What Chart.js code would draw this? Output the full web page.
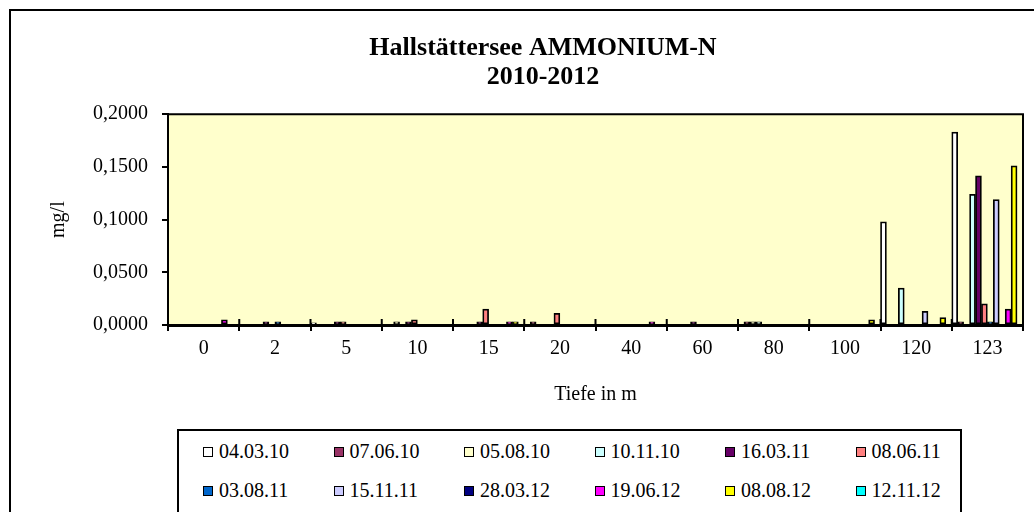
<!DOCTYPE html>
<html>
<head>
<meta charset="utf-8">
<title>Hallstättersee AMMONIUM-N</title>
<script src="https://cdn.jsdelivr.net/npm/chart.js@4.4.1/dist/chart.umd.min.js"></script>
<style>
    body {
        margin: 0;
        width: 1034px;
        height: 512px;
        overflow: hidden;
        position: relative;
        background: #fff;
        font-family: 'Liberation Serif', 'Times New Roman', serif;
    }
    #frame {
        position: absolute;
        left: 9px;
        top: 9px;
        width: 1100px;
        height: 600px;
        border: 2px solid #000;
    }
    #wrap {
        position: absolute;
        left: 0;
        top: 0;
        width: 1034px;
        height: 420px;
    }
    #legend {
        position: absolute;
        left: 177px;
        top: 429px;
        width: 781px;
        height: 120px;
        border: 2px solid #000;
    }
    .item {
        position: absolute;
        font-size: 20px;
        line-height: 20px;
        white-space: nowrap;
        color: #000;
    }
    .box {
        display: inline-block;
        box-sizing: border-box;
        width: 10px;
        height: 10px;
        border: 1.5px solid #000;
        margin-right: 6px;
        vertical-align: 1px;
    }
</style>
</head>
<body>
<div id="frame"></div>
<div id="wrap"><canvas id="chart" width="1034" height="420"></canvas></div>
<div id="legend"></div>

<script>
const FONT = "'Liberation Serif', 'Times New Roman', serif";

const depths = ['0', '2', '5', '10', '15', '20', '40', '60', '80', '100', '120', '123'];

const dates = ['04.03.10', '07.06.10', '05.08.10', '10.11.10', '16.03.11', '08.06.11',
               '03.08.11', '15.11.11', '28.03.12', '19.06.12', '08.08.12', '12.11.12'];

const colors = ['#FFFFFF', '#993366', '#FFFFCC', '#CCFFFF', '#660066', '#FF8080',
                '#0066CC', '#CCCCFF', '#000080', '#FF00FF', '#FFFF00', '#00FFFF'];

// values per date, one per depth (mg/l)
const d040310 = [0, 0, 0.002, 0, 0, 0, 0, 0, 0, 0, 0.098, 0.183];
const d070610 = [0, 0, 0, 0, 0, 0.003, 0, 0, 0.003, 0, 0, 0.003];
const d050810 = [0, 0, 0, 0.003, 0, 0, 0, 0, 0.003, 0, 0, 0];
const d101110 = [0, 0, 0, 0, 0, 0, 0, 0, 0.003, 0, 0.035, 0.124];
const d160311 = [0, 0.003, 0.003, 0.003, 0.003, 0, 0, 0.003, 0, 0, 0, 0.1415];
const d080611 = [0, 0, 0.003, 0.005, 0.015, 0.011, 0, 0, 0, 0, 0, 0.020];
const d030811 = [0, 0.003, 0, 0, 0, 0, 0, 0, 0, 0, 0, 0.003];
const d151111 = [0, 0, 0, 0, 0, 0, 0, 0, 0, 0, 0.013, 0.119];
const d280312 = [0, 0, 0, 0, 0, 0, 0, 0, 0, 0, 0, 0];
const d190612 = [0.005, 0, 0, 0, 0.003, 0, 0.003, 0, 0, 0, 0, 0.015];
const d080812 = [0, 0, 0, 0, 0.003, 0, 0, 0, 0, 0.005, 0.007, 0.151];
const d121112 = [0, 0, 0, 0, 0, 0, 0, 0, 0, 0, 0, 0];

const series = [d040310, d070610, d050810, d101110, d160311, d080611,
                d030811, d151111, d280312, d190612, d080812, d121112];

const yTicks = [0, 0.05, 0.1, 0.15, 0.2];


// yellow plot area with a black frame
const plotArea = {
    id: 'plotArea',
    beforeDraw(chart) {
        const a = chart.chartArea;
        const c = chart.ctx;
        c.save();
        c.fillStyle = '#FFFFCC';
        c.fillRect(a.left, a.top, a.right - a.left, a.bottom - a.top);
        c.restore();
    },
    afterDraw(chart) {
        const a = chart.chartArea;
        const c = chart.ctx;
        const x = chart.scales.x;
        c.save();
        c.strokeStyle = '#000';
        c.lineWidth = 2;
        c.beginPath();
        c.moveTo(a.left, a.top);
        c.lineTo(a.right, a.top);
        c.lineTo(a.right, a.bottom);

        // category ticks cross the axis, so add the part inside the plot
        for (let i = 0; i <= depths.length; i++) {
            const px = x.getPixelForValue(i - 0.5);
            c.moveTo(px, a.bottom);
            c.lineTo(px, a.bottom - 6);
        }
        c.stroke();
        c.restore();
    }
};


const chart = new Chart(
    document.getElementById('chart'),
    {
        type: 'bar',

        data: {
            labels: depths,
            datasets: series.map((values, i) => ({
                label: dates[i],
                data: values,
                backgroundColor: colors[i],
                borderColor: '#000',
                borderWidth: 1.75,
                borderSkipped: false,
                categoryPercentage: 1,
                barPercentage: 1
            }))
        },

        options: {
            responsive: false,
            animation: false,

            // left padding keeps the title centred on the whole frame
            layout: {
                padding: { left: 63, right: 11, top: 10, bottom: 0 }
            },

            plugins: {
                legend: { display: false },
                tooltip: { enabled: false },
                title: {
                    display: true,
                    text: ['Hallstättersee AMMONIUM-N', '2010-2012'],
                    color: '#000',
                    font: { family: FONT, size: 26, weight: 'bold', lineHeight: 1.1 },
                    padding: { top: 24, bottom: 23 }
                }
            },

            scales: {
                x: {
                    grid: {
                        offset: true,
                        drawOnChartArea: false,
                        tickLength: 6,
                        color: '#000',
                        lineWidth: 2
                    },
                    border: { color: '#000', width: 3 },
                    ticks: {
                        color: '#000',
                        font: { family: FONT, size: 20 },
                        padding: 6,
                        maxRotation: 0,
                        autoSkip: false
                    },
                    title: {
                        display: true,
                        text: 'Tiefe in m',
                        color: '#000',
                        font: { family: FONT, size: 20 },
                        padding: { top: 0, bottom: 13 }
                    },
                    afterFit: (scale) => { scale.height = 95; }
                },

                y: {
                    min: 0,
                    max: 0.2,
                    afterBuildTicks: (scale) => {
                        scale.ticks = yTicks.map(v => ({ value: v }));
                    },
                    grid: {
                        drawOnChartArea: false,
                        tickLength: 6,
                        color: '#000',
                        lineWidth: 2
                    },
                    border: { color: '#000', width: 2 },
                    ticks: {
                        color: '#000',
                        font: { family: FONT, size: 20 },
                        padding: 14,
                        callback: (v) => Number(v).toFixed(4).replace('.', ',')
                    },
                    title: {
                        display: true,
                        text: 'mg/l',
                        color: '#000',
                        font: { family: FONT, size: 20 },
                        padding: { top: -16, bottom: 0 }
                    },
                    afterFit: (scale) => { scale.width = 105; }
                }
            }
        },

        plugins: [plotArea]
    }
);


// legend: two rows of six, like the original
const legend = document.getElementById('legend');

dates.forEach((d, i) => {
    const item = document.createElement('div');
    item.className = 'item';
    item.style.left = (24 + (i % 6) * 130.5) + 'px';
    item.style.top = (i < 6 ? 10 : 49) + 'px';

    const box = document.createElement('span');
    box.className = 'box';
    box.style.background = colors[i];

    item.appendChild(box);
    item.appendChild(document.createTextNode(d));
    legend.appendChild(item);
});
</script>
</body>
</html>
